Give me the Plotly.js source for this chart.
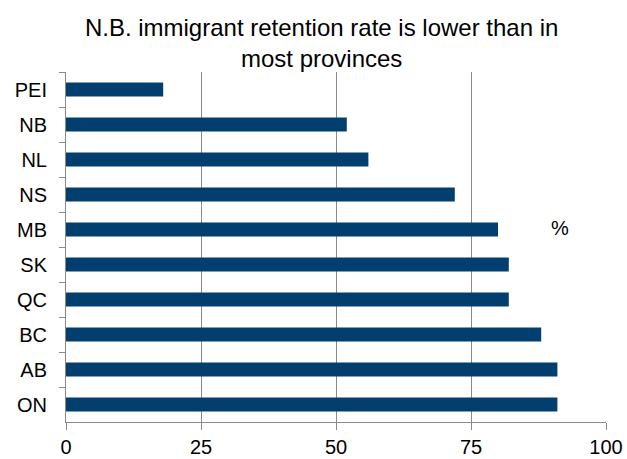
<!DOCTYPE html>
<html>
<head>
<meta charset="utf-8">
<script src="https://cdn.plot.ly/plotly-3.0.1.min.js"></script>
<style>html,body{margin:0;padding:0;background:#fff;}#chart{width:627px;height:459px;}</style>
</head>
<body>
<div id="chart"></div>
<script>
const provinces = ["PEI", "NB", "NL", "NS", "MB", "SK", "QC", "BC", "AB", "ON"];
const retention = [18, 52, 56, 72, 80, 82, 82, 88, 91, 91];
const xTicks = [0, 25, 50, 75, 100];
const FONT = '"Liberation Sans", Arial, sans-serif';

const trace = {
  type: 'bar',
  orientation: 'h',
  y: provinces,
  x: retention,
  marker: {color: '#023f6e'},
  hoverinfo: 'x+y'
};

const layout = {
  width: 627, height: 459,
  margin: {l: 66, r: 21, t: 72, b: 37},
  paper_bgcolor: '#fff', plot_bgcolor: '#fff',
  title: {
    text: 'N.B. immigrant retention rate is lower than in<br>most provinces',
    font: {family: FONT, size: 24, color: '#000'},
    x: 0.513, xanchor: 'center'
  },
  bargap: 0.6,
  showlegend: false,
  xaxis: {
    range: [0, 100], tickvals: xTicks, ticktext: xTicks.map(String),
    showgrid: true, gridcolor: '#8a8a8a', gridwidth: 1,
    zeroline: false, showline: true, linecolor: '#8a8a8a', linewidth: 1,
    ticks: 'outside', ticklen: 7, tickcolor: '#8a8a8a',
    tickfont: {family: FONT, size: 20, color: '#000'},
    fixedrange: true
  },
  yaxis: {
    type: 'category', categoryorder: 'array', categoryarray: provinces,
    autorange: 'reversed',
    showgrid: false, zeroline: false, showline: true, linecolor: '#8a8a8a', linewidth: 1,
    ticks: 'outside', ticklen: 6, tickcolor: '#8a8a8a', tickson: 'boundaries',
    tickfont: {family: FONT, size: 20, color: '#000'},
    ticklabelstandoff: 14,
    fixedrange: true
  },
  annotations: [{
    text: '%', xref: 'x', yref: 'paper', x: 91.4, y: 0.555,
    showarrow: false, font: {family: FONT, size: 20, color: '#000'}
  }]
};

Plotly.newPlot('chart', [trace], layout, {displayModeBar: false, staticPlot: true});
</script>
</body>
</html>
